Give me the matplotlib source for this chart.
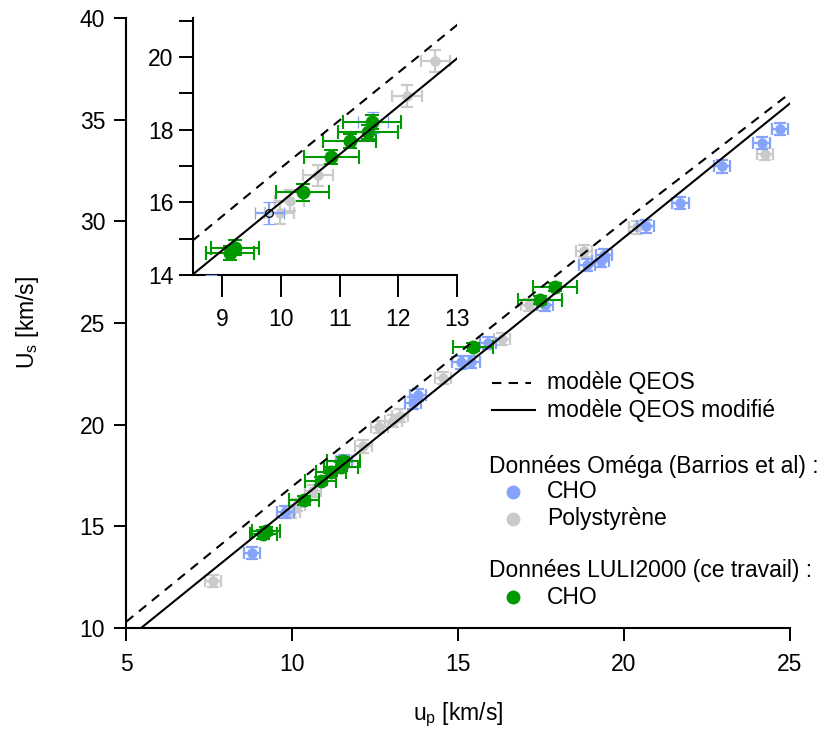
import matplotlib
matplotlib.use('Agg')
import matplotlib.pyplot as plt
from matplotlib.lines import Line2D
from matplotlib.ticker import MultipleLocator

plt.rcParams['font.family'] = ['Liberation Sans', 'DejaVu Sans']
plt.rcParams['mathtext.fontset'] = 'custom'
plt.rcParams['mathtext.rm'] = 'Liberation Sans'
plt.rcParams['mathtext.it'] = 'Liberation Sans:italic'

# ---------------- data ----------------
# Omega data (Barrios et al), CHO
cho_up = [8.80, 9.80, 11.57, 13.65, 13.80, 15.08, 15.40, 15.90, 17.62, 18.88,
          19.30, 19.40, 20.65, 21.70, 22.95, 24.15, 24.70]
cho_us = [13.70, 15.70, 18.20, 21.07, 21.45, 23.06, 23.10, 24.00, 25.90, 27.85,
          28.05, 28.35, 29.75, 30.90, 32.70, 33.85, 34.55]
# Omega data (Barrios et al), polystyrene
ps_up = [7.62, 9.98, 10.15, 10.63, 12.15, 12.63, 13.05, 13.25, 14.55, 16.33,
         17.15, 18.80, 20.40, 24.25]
ps_us = [12.30, 15.70, 16.05, 16.74, 18.93, 19.90, 20.20, 20.45, 22.30, 24.20,
         25.90, 28.55, 29.70, 33.30]
omega_xerr = 0.25
omega_yerr = 0.30

# LULI2000 data (this work), CHO
luli_up = [9.13, 9.22, 10.37, 10.86, 11.17, 11.48, 11.55, 15.45, 17.47, 17.92]
luli_us = [14.60, 14.75, 16.28, 17.25, 17.69, 17.94, 18.21, 23.80, 26.13, 26.77]
luli_xerr = [0.41, 0.41, 0.45, 0.47, 0.45, 0.51, 0.49, 0.60, 0.65, 0.65]
luli_yerr = [0.20, 0.20, 0.23, 0.20, 0.20, 0.20, 0.20, 0.20, 0.20, 0.20]

# models
qeos_up = [5, 10, 15, 20, 25]
qeos_us = [10.3, 16.95, 23.5, 30.0, 36.3]
qeos_mod_up = [5, 25]
qeos_mod_us = [9.4, 35.8]

# labels
xlabel = 'u$_\\mathrm{p}$ [km/s]'
ylabel = 'U$_\\mathrm{s}$ [km/s]'
leg_qeos = 'modèle QEOS'
leg_qeos_mod = 'modèle QEOS modifié'
leg_omega = 'Données Oméga (Barrios et al) :'
leg_cho = 'CHO'
leg_ps = 'Polystyrène'
leg_luli = 'Données LULI2000 (ce travail) :'

c_blue = '#85a3fa'
c_grey = '#cacaca'
c_green = '#009a00'

W, H = 828, 729
fig = plt.figure(figsize=(W / 100, H / 100), dpi=100)

def fx(px):
    return px / W

def fy(py):
    return 1 - py / H

FS = 16.5


def sel(xs, ys, xmax):
    pts = [(x, y) for x, y in zip(xs, ys) if x <= xmax]
    return [p[0] for p in pts], [p[1] for p in pts]


def draw_data(ax, inset=False):
    xmax = 13.0 if inset else 100
    px, py = sel(ps_up, ps_us, xmax)
    ax.errorbar(px, py, xerr=omega_xerr, yerr=omega_yerr, fmt='o',
                color=c_grey, ms=6.5, mec=c_grey, capsize=4, elinewidth=1.6,
                capthick=1.6, zorder=2)
    bx, by = sel(cho_up, cho_us, xmax)
    if inset:
        ax.errorbar(bx, by, xerr=omega_xerr, yerr=omega_yerr, fmt='o',
                    color=c_blue, ms=5.5, mfc='#c9d6ff', mec='black', mew=0.9,
                    capsize=4, elinewidth=1.6, capthick=1.6, zorder=3)
    else:
        ax.errorbar(bx, by, xerr=omega_xerr, yerr=omega_yerr, fmt='o',
                    color=c_blue, ms=6.5, mec=c_blue, capsize=4, elinewidth=1.6,
                    capthick=1.6, zorder=3)
    ax.errorbar(luli_up, luli_us, xerr=luli_xerr, yerr=luli_yerr, fmt='o',
                color=c_green, ms=9, mec=c_green, capsize=5, elinewidth=1.5,
                capthick=1.5, zorder=4)
    ax.plot(qeos_up, qeos_us, color='black', lw=1.5, ls=(0, (4.5, 3.5)), zorder=5)
    ax.plot(qeos_mod_up, qeos_mod_us, color='black', lw=1.5, zorder=5)


def style(ax, ticklen):
    for s in ('top', 'right'):
        ax.spines[s].set_visible(False)
    for s in ('left', 'bottom'):
        ax.spines[s].set_linewidth(1.5)
    ax.tick_params(which='both', direction='out', length=ticklen, width=1.4,
                   labelsize=FS)


# main axes
ax = fig.add_axes([fx(126), fy(628), fx(790) - fx(126), fy(18) - fy(628)])
draw_data(ax)
ax.set_xlim(5, 25)
ax.set_ylim(10, 40)
ax.xaxis.set_major_locator(MultipleLocator(5))
ax.yaxis.set_major_locator(MultipleLocator(5))
style(ax, 9)
ax.tick_params(axis='x', pad=9)
ax.tick_params(axis='y', pad=6)

fig.text(fx(458), fy(715), xlabel, fontsize=FS, ha='center', va='center')
fig.text(fx(28), fy(322), ylabel, fontsize=FS, ha='center', va='center',
         rotation=90)

# inset axes
ins_top = 14 + 257 / 36.33
axi = fig.add_axes([fx(193), fy(275), fx(457) - fx(193), fy(18) - fy(275)])
axi.patch.set_alpha(0)
draw_data(axi, inset=True)
axi.set_xlim(8.5, 13)
axi.set_ylim(14, ins_top)
axi.xaxis.set_major_locator(MultipleLocator(1))
axi.yaxis.set_major_locator(MultipleLocator(2))
axi.yaxis.set_minor_locator(MultipleLocator(1))
style(axi, 16)
axi.tick_params(axis='x', pad=8)
axi.tick_params(axis='y', which='both', length=10, pad=4)

# legend (custom)
lx0, lx1, tx = 492, 531, 547
fig.add_artist(Line2D([fx(lx0), fx(lx1)], [fy(383), fy(383)], color='black',
                      lw=1.5, ls=(0, (4.5, 3.5)), transform=fig.transFigure))
fig.text(fx(tx), fy(383), leg_qeos, fontsize=FS, va='center')
fig.add_artist(Line2D([fx(lx0), fx(lx1 + 4)], [fy(410), fy(410)], color='black',
                      lw=1.5, transform=fig.transFigure))
fig.text(fx(tx), fy(410), leg_qeos_mod, fontsize=FS, va='center')

fig.text(fx(489), fy(466), leg_omega, fontsize=FS, va='center')
fig.add_artist(Line2D([fx(513)], [fy(492)], marker='o', ms=9, color=c_blue,
                      ls='none', transform=fig.transFigure))
fig.text(fx(tx), fy(492), leg_cho, fontsize=FS, va='center')
fig.add_artist(Line2D([fx(513)], [fy(519)], marker='o', ms=9, color=c_grey,
                      ls='none', transform=fig.transFigure))
fig.text(fx(tx), fy(519), leg_ps, fontsize=FS, va='center')

fig.text(fx(489), fy(570), leg_luli, fontsize=FS, va='center')
fig.add_artist(Line2D([fx(513)], [fy(597)], marker='o', ms=9, color=c_green,
                      ls='none', transform=fig.transFigure))
fig.text(fx(tx), fy(597), leg_cho, fontsize=FS, va='center')

fig.savefig('out.png', dpi=100)
